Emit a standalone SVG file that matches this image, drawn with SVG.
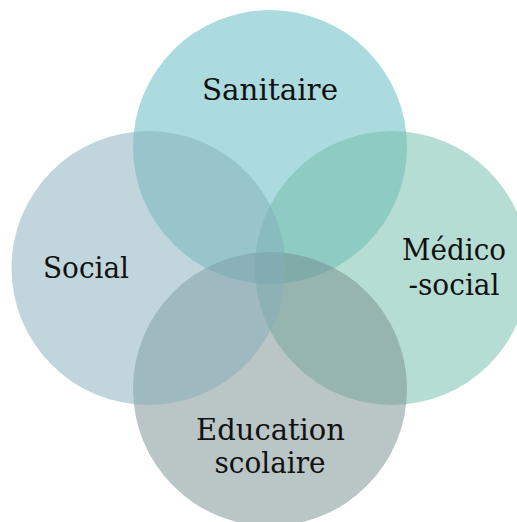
<svg xmlns="http://www.w3.org/2000/svg" width="517" height="522" viewBox="0 0 517 522">
<style>
.c{opacity:0.5}
.t{font-size:30px;fill:#111;text-anchor:middle}
</style>
<rect width="517" height="522" fill="#fff"/>
<g id="sanitaire"><circle class="c" cx="270" cy="147" r="137" fill="#59b7bf"/></g>
<g id="medico-social"><circle class="c" cx="392" cy="268" r="137" fill="#6dbba7"/></g>
<g id="education"><circle class="c" cx="270" cy="389" r="137" fill="#758b8d"/></g>
<g id="social"><circle class="c" cx="148.5" cy="268" r="137" fill="#83adb9"/></g>
<g id="connectors"></g>
<g id="labels" font-family="'DejaVu Serif', serif">
<text class="t" x="270" y="100" textLength="136" lengthAdjust="spacingAndGlyphs">Sanitaire</text>
<text class="t" x="86" y="278" textLength="86" lengthAdjust="spacingAndGlyphs">Social</text>
<text class="t" x="454" y="260" textLength="104" lengthAdjust="spacingAndGlyphs">Médico</text>
<text class="t" x="454" y="295" textLength="91" lengthAdjust="spacingAndGlyphs">-social</text>
<text class="t" x="270.5" y="440" textLength="149" lengthAdjust="spacingAndGlyphs">Education</text>
<text class="t" x="270" y="473" textLength="111" lengthAdjust="spacingAndGlyphs">scolaire</text>
</g>
</svg>
